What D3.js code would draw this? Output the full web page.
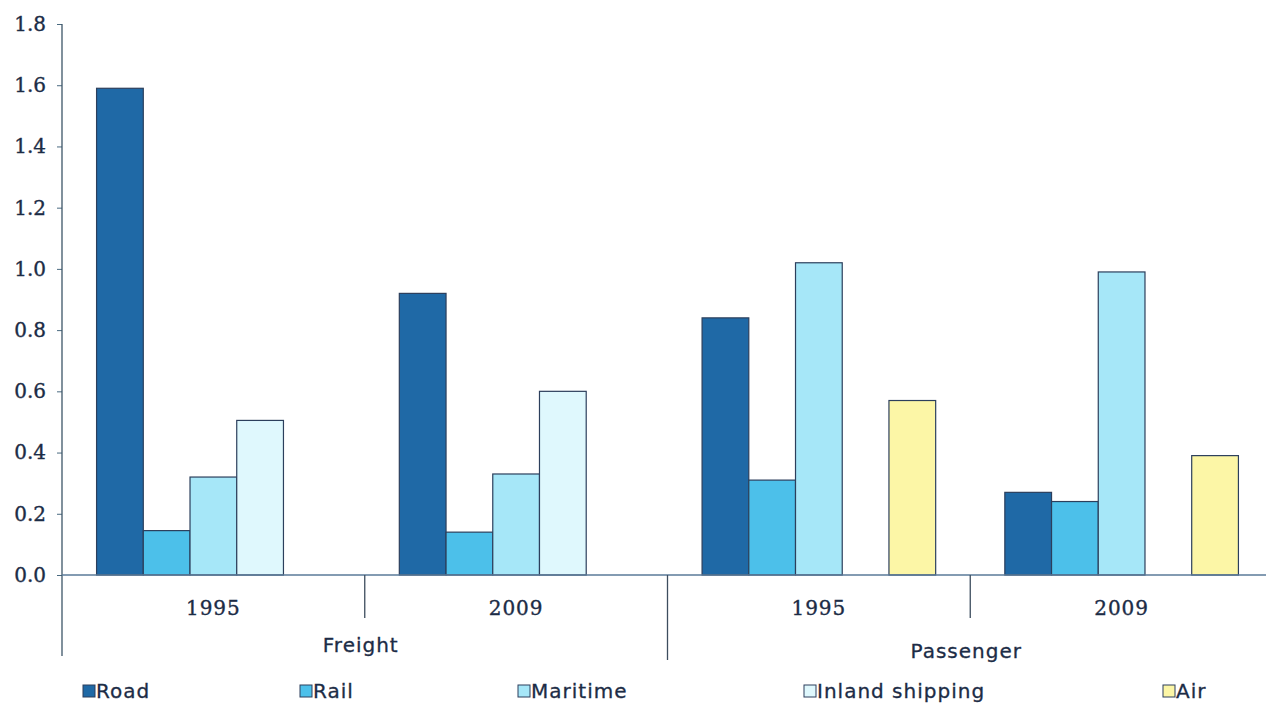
<!DOCTYPE html>
<html>
<head>
<meta charset="utf-8">
<script src="https://cdn.jsdelivr.net/npm/d3@7"></script>
<style>
  html, body { margin: 0; padding: 0; background: #ffffff; }
  svg { display: block; }
</style>
</head>
<body>
<svg id="chart" width="1266" height="711"></svg>
<script>
// Modes and years that form the two-level category axis
const groups = ["Freight", "Passenger"];
const years = ["1995", "2009"];
const categories = [
  { group: "Freight", year: "1995" },
  { group: "Freight", year: "2009" },
  { group: "Passenger", year: "1995" },
  { group: "Passenger", year: "2009" }
];

// Transport modes (series)
const series = ["Road", "Rail", "Maritime", "Inland shipping", "Air"];

// Values per category, in series order
const road     = [1.59, 0.92, 0.84, 0.27];
const rail     = [0.145, 0.14, 0.31, 0.24];
const maritime = [0.32, 0.33, 1.02, 0.99];
const inland   = [0.505, 0.60, 0, 0];
const air      = [0, 0, 0.57, 0.39];

const yTicks = [0, 0.2, 0.4, 0.6, 0.8, 1.0, 1.2, 1.4, 1.6, 1.8];

const colors = ["#1f69a6", "#4cc0ea", "#a6e7f8", "#dff8fd", "#fcf6a6"];

const valuesBySeries = [road, rail, maritime, inland, air];

const svg = d3.select("#chart");
const plotLeft = 62, plotTop = 24, baseY = 575;
const plotRight = 1273;
const textColor = "#1c2c46";

const y = d3.scaleLinear().domain([0, 1.8]).range([baseY, plotTop]);

const x0 = d3.scaleBand()
  .domain(d3.range(categories.length))
  .range([plotLeft, plotRight])
  .padding(0);

const x1 = d3.scaleBand()
  .domain(series)
  .range([0, x0.bandwidth()])
  .paddingInner(0)
  .paddingOuter(0.74);

const color = d3.scaleOrdinal().domain(series).range(colors);

// Bars
const gBars = svg.append("g");
categories.forEach((c, i) => {
  series.forEach((s, j) => {
    const v = valuesBySeries[j][i];
    if (!v) return;
    gBars.append("rect")
      .attr("x", x0(i) + x1(s))
      .attr("y", y(v))
      .attr("width", x1.bandwidth())
      .attr("height", baseY - y(v))
      .attr("fill", color(s))
      .attr("stroke", "#2c3f5c")
      .attr("stroke-width", 1.2);
  });
});

// Y axis
const yAxis = d3.axisLeft(y)
  .tickValues(yTicks)
  .tickFormat(d3.format(".1f"))
  .tickSize(5)
  .tickSizeOuter(0);

const gy = svg.append("g")
  .attr("transform", `translate(${plotLeft},0)`)
  .call(yAxis);
gy.select(".domain").remove();
gy.selectAll(".tick line").attr("stroke", "#4a6a80");
gy.selectAll(".tick text")
  .attr("x", -16)
  .attr("fill", textColor)
  .attr("stroke", textColor)
  .attr("stroke-width", 0.35)
  .style("font-family", "'DejaVu Serif', serif")
  .style("font-size", "20px");

// Vertical axis line, running down through the category area
svg.append("line")
  .attr("x1", plotLeft).attr("x2", plotLeft)
  .attr("y1", plotTop).attr("y2", 656)
  .attr("stroke", "#3d5568").attr("stroke-width", 1.3);

// Baseline
svg.append("line")
  .attr("x1", plotLeft).attr("x2", 1266)
  .attr("y1", baseY).attr("y2", baseY)
  .attr("stroke", "#5a7a98").attr("stroke-width", 1.3);

// Separators between years and between groups
const gCat = svg.append("g");
categories.forEach((c, i) => {
  if (i === 0) return;
  const isGroupEdge = categories[i - 1].group !== c.group;
  gCat.append("line")
    .attr("x1", x0(i)).attr("x2", x0(i))
    .attr("y1", baseY).attr("y2", isGroupEdge ? 660 : 618)
    .attr("stroke", "#3d4d5e").attr("stroke-width", 1.3);
});

// Year labels
categories.forEach((c, i) => {
  gCat.append("text")
    .attr("x", x0(i) + x0.bandwidth() / 2)
    .attr("y", 615)
    .attr("text-anchor", "middle")
    .attr("fill", textColor)
    .attr("stroke", textColor)
    .attr("stroke-width", 0.35)
    .style("font-family", "'DejaVu Serif', serif")
    .style("font-size", "20px")
    .style("letter-spacing", "1px")
    .text(c.year);
});

// Group labels
groups.forEach((g, k) => {
  const idx = categories.map((c, i) => c.group === g ? i : -1).filter(i => i >= 0);
  const cx = (x0(idx[0]) + x0(idx[idx.length - 1]) + x0.bandwidth()) / 2;
  gCat.append("text")
    .attr("x", cx - 4)
    .attr("y", k === 0 ? 652 : 658)
    .attr("text-anchor", "middle")
    .attr("fill", textColor)
    .attr("stroke", textColor)
    .attr("stroke-width", 0.3)
    .style("font-family", "'DejaVu Sans', sans-serif")
    .style("font-size", "20px")
    .style("letter-spacing", "1px")
    .text(g);
});

// Legend
const legendX = [83, 300, 518, 804, 1163];
const gLeg = svg.append("g");
series.forEach((s, j) => {
  const lx = legendX[j];
  gLeg.append("rect")
    .attr("x", lx).attr("y", 685)
    .attr("width", 12).attr("height", 12)
    .attr("fill", color(s))
    .attr("stroke", "#2c3f5c").attr("stroke-width", 1);
  gLeg.append("text")
    .attr("x", lx + 13).attr("y", 698)
    .attr("fill", textColor)
    .attr("stroke", textColor)
    .attr("stroke-width", 0.3)
    .style("font-family", "'DejaVu Sans', sans-serif")
    .style("font-size", "20px")
    .style("letter-spacing", "1px")
    .text(s);
});
</script>
</body>
</html>
